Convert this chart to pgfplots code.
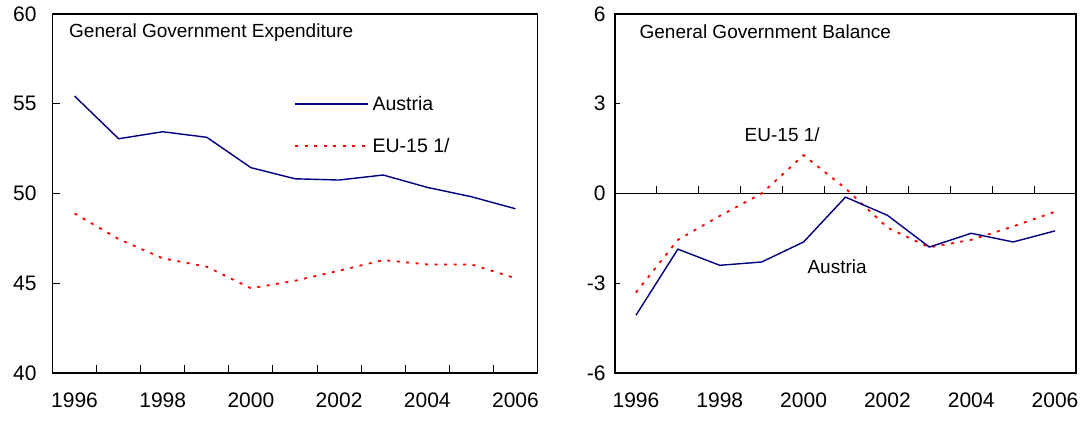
\documentclass[border=0pt]{standalone}
\usepackage{pgfplots}
\pgfplotsset{compat=1.18}
\usepackage{fontspec}
\setmainfont{Liberation Sans}
\definecolor{navy}{RGB}{0,0,128}
\definecolor{eured}{RGB}{255,0,0}
\newcommand{\tickfont}{\fontsize{21}{24}\selectfont}
\newcommand{\txtfont}{\fontsize{19}{22}\selectfont}
\pgfplotsset{
  austria/.style={navy, line width=1.4pt, mark=none},
  eu/.style={eured, line width=1.8pt, mark=none, dash pattern=on 3pt off 6.5pt},
  panel/.style={scale only axis, anchor=south west, height=359pt,
    xmin=1995.5, xmax=2006.5,
    axis line style={black, line width=1.2pt},
    tick style={black, line width=1pt},
    tick align=inside,
    major tick length=7.5pt,
    xtick pos=left, ytick pos=left,
    ticklabel style={font=\tickfont},
    xtick={1996.5,1997.5,...,2005.5}, xticklabels={},
    extra x ticks={1996,1998,2000,2002,2004,2006},
    extra x tick labels={1996,1998,2000,2002,2004,2006},
    extra x tick style={major tick length=0pt},
    clip=false,
  },
}
\begin{document}
\begin{tikzpicture}
\path[use as bounding box] (-52.5pt,-47pt) rectangle (1033.5pt,373pt);
% ---------------- left panel ----------------
\begin{axis}[panel, at={(0pt,0pt)}, width=485pt,
  ymin=40, ymax=60, ytick={40,45,50,55,60}, yticklabels={40,45,50,55,60},
  yticklabel style={xshift=-12.5pt},
  xticklabel style={yshift=-16.5pt},
  legend style={draw=none, fill=none, at={(axis cs:2000.98,53.82)}, anchor=west,
    inner sep=0pt, row sep=22pt, column sep=1.5pt, font=\fontsize{19.5}{22}\selectfont},
  legend cell align=left,
  legend image code/.code={\draw[#1] (0pt,0pt) -- (73pt,0pt);},
]
\addplot[austria] coordinates {(1996,55.43) (1997,53.05) (1998,53.44) (1999,53.13) (2000,51.44) (2001,50.82) (2002,50.75) (2003,51.03) (2004,50.34) (2005,49.82) (2006,49.15)};
\addlegendentry{Austria}
\addplot[eu] coordinates {(1996,48.89) (1997,47.46) (1998,46.39) (1999,45.92) (2000,44.72) (2001,45.14) (2002,45.70) (2003,46.29) (2004,46.05) (2005,46.05) (2006,45.28)};
\addlegendentry{EU-15 1/}
\node[anchor=west, inner sep=0pt, font=\txtfont] at (rel axis cs:0.034,0.947) {General Government Expenditure};
\end{axis}
% ---------------- right panel: zero line ----------------
\begin{axis}[scale only axis, anchor=south west, at={(562.5pt,0pt)}, width=461pt, height=359pt,
  xmin=1995.5, xmax=2006.5, ymin=-6, ymax=6,
  axis x line=middle, axis y line=none,
  x axis line style={-, black, line width=1pt},
  xtick={1996.5,1997.5,...,2005.5}, xticklabels={}, ytick=\empty,
  tick align=inside, major tick length=7pt, tick style={black, line width=1pt},
]
\addplot[draw=none] coordinates {(1996,0) (2006,0)};
\end{axis}
% ---------------- right panel ----------------
\begin{axis}[panel, at={(562.5pt,0pt)}, width=461pt,
  ymin=-6, ymax=6, ytick={-6,-3,0,3,6}, yticklabels={-6,-3,0,3,6},
  yticklabel style={xshift=-6pt},
  xticklabel style={yshift=-16.5pt},
  major tick length=5.5pt,
  xtick=\empty,
]
\addplot[eu] coordinates {(1996,-3.31) (1997,-1.55) (1998,-0.75) (1999,0.0) (2000,1.28) (2001,0.17) (2002,-1.14) (2003,-1.80) (2004,-1.55) (2005,-1.10) (2006,-0.61)};
\addplot[austria] coordinates {(1996,-4.07) (1997,-1.86) (1998,-2.40) (1999,-2.29) (2000,-1.62) (2001,-0.12) (2002,-0.73) (2003,-1.79) (2004,-1.33) (2005,-1.62) (2006,-1.25)};
\node[anchor=west, inner sep=0pt, font=\txtfont] at (rel axis cs:0.053,0.95) {General Government Balance};
\node[inner sep=0pt, font=\txtfont] at (axis cs:1999.49,1.96) {EU-15 1/};
\node[inner sep=0pt, font=\txtfont] at (axis cs:2000.80,-2.45) {Austria};
\end{axis}
\end{tikzpicture}
\end{document}
